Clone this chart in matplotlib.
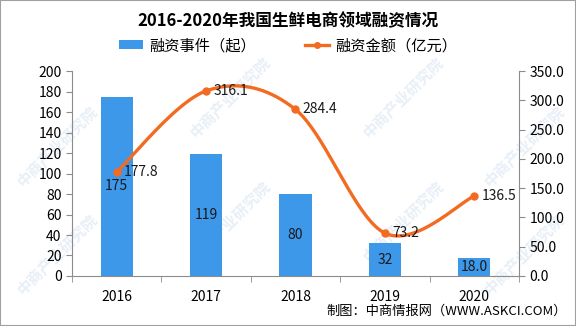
import numpy as np
import matplotlib.pyplot as plt
from matplotlib.patches import Rectangle

plt.rcParams['font.family'] = ['Noto Sans CJK SC', 'DejaVu Sans']

years = ['2016', '2017', '2018', '2019', '2020']
deals = [175, 119, 80, 32, 18.0]
deal_labels = ['175', '119', '80', '32', '18.0']
amount = [177.8, 316.1, 284.4, 73.2, 136.5]

bar_color = '#3d98ea'
line_color = '#f26b21'
axis_color = '#8c8c8c'


def smooth(xs, ys, steps=40):
    # cubic bezier through the points, control points from neighbour slopes
    xs = np.asarray(xs, float)
    ys = np.asarray(ys, float)
    n = len(xs)
    px, py = [], []
    for i in range(n - 1):
        x0, y0 = (xs[i - 1], ys[i - 1]) if i > 0 else (xs[i], ys[i])
        x3, y3 = (xs[i + 2], ys[i + 2]) if i + 2 < n else (xs[i + 1], ys[i + 1])
        c1x = xs[i] + (xs[i + 1] - x0) / 6
        c1y = ys[i] + (ys[i + 1] - y0) / 6
        c2x = xs[i + 1] - (x3 - xs[i]) / 6
        c2y = ys[i + 1] - (y3 - ys[i]) / 6
        t = np.linspace(0, 1, steps)
        a, b, c, d = (1 - t) ** 3, 3 * (1 - t) ** 2 * t, 3 * (1 - t) * t ** 2, t ** 3
        px.extend(a * xs[i] + b * c1x + c * c2x + d * xs[i + 1])
        py.extend(a * ys[i] + b * c1y + c * c2y + d * ys[i + 1])
    return np.array(px), np.array(py)


fig = plt.figure(figsize=(5.76, 3.26), dpi=100)
ax = fig.add_axes([0.125, 0.1534, 0.776, 0.6286])
ax2 = ax.twinx()

# faint watermark behind the plot
for wx, wy in [(0.10, 0.55), (0.10, 0.22), (0.40, 0.70), (0.40, 0.32),
               (0.70, 0.70), (0.70, 0.32), (0.91, 0.55), (0.91, 0.22)]:
    fig.text(wx, wy, '中商产业研究院', rotation=45, fontsize=11, color='#e8eff7',
             ha='center', va='center', fontweight='bold', zorder=-10)

x = np.arange(len(years))
bars = ax.bar(x, deals, width=0.36, color=bar_color, zorder=2, label='融资事件（起）')
for xi, v, lab in zip(x, deals, deal_labels):
    ax.text(xi, v / 2, lab, ha='center', va='center', fontsize=10, color='#1a1a1a', zorder=4)

sx, sy = smooth(x, amount)
ax2.plot(sx, sy, color=line_color, linewidth=2.4, zorder=3)
ax2.plot(x, amount, 'o', color=line_color, markersize=5, zorder=3)
for xi, v in zip(x, amount):
    ax2.text(xi + 0.08, v, f'{v:.1f}', ha='left', va='center', fontsize=10, color='#1a1a1a')

ax.set_xlim(-0.5, 4.5)
ax.set_ylim(0, 200)
ax.set_yticks(np.arange(0, 201, 20))
ax2.set_ylim(0, 350)
ax2.set_yticks(np.arange(0, 351, 50))
ax2.set_yticklabels([f'{v:.1f}' for v in np.arange(0, 351, 50)])

ax.set_xticks(x)
ax.set_xticklabels(years)
ax.set_xticks(np.arange(-0.5, 4.6, 1), minor=True)
ax.tick_params(axis='x', which='major', length=0, pad=10, labelsize=10)
ax.tick_params(axis='x', which='minor', length=4, color=axis_color)
ax.tick_params(axis='y', length=4, color=axis_color, labelsize=10)
ax2.tick_params(axis='y', length=4, color=axis_color, labelsize=10)

for a in (ax, ax2):
    a.spines['top'].set_visible(False)
    for s in ('left', 'right', 'bottom'):
        a.spines[s].set_color(axis_color)
ax.spines['right'].set_visible(False)
ax2.spines['left'].set_visible(False)
ax2.spines['bottom'].set_visible(False)
ax.set_zorder(ax2.get_zorder() - 1)
ax.patch.set_visible(False)
ax2.patch.set_visible(False)

fig.text(0.5, 0.935, '2016-2020年我国生鲜电商领域融资情况', ha='center', va='center',
         fontsize=12, fontweight='bold')

line_handle = plt.Line2D([], [], color=line_color, linewidth=2.4, marker='o', markersize=4)
fig.legend([bars, line_handle], ['融资事件（起）', '融资金额（亿元）'], loc='center',
           bbox_to_anchor=(0.5, 0.86), ncol=2, frameon=False, fontsize=11,
           handlelength=1.6, handleheight=0.5, columnspacing=3.2, handletextpad=0.4)

fig.text(0.985, 0.045, '制图：中商情报网（WWW.ASKCI.COM）', ha='right', va='center', fontsize=9.5)

fig.add_artist(Rectangle((0, 0), 1, 1, transform=fig.transFigure, fill=False,
                         edgecolor='#a0a0a0', linewidth=1.5))

fig.savefig('out.png', dpi=100)
